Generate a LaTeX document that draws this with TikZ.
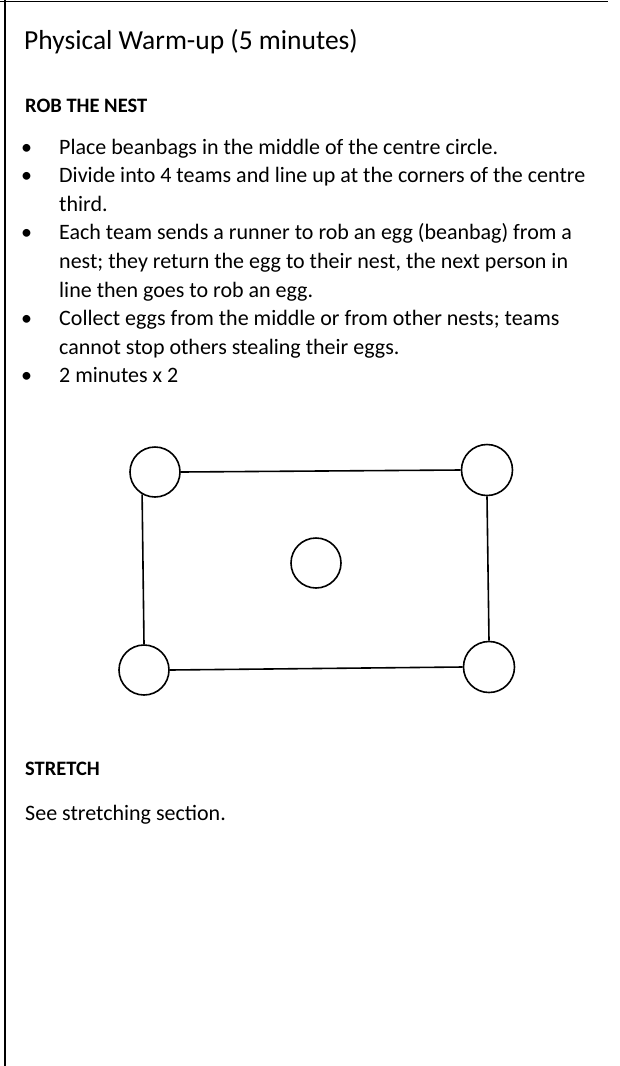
\documentclass[tikz,border=0pt]{standalone}
\usepackage{fontspec}
\setmainfont{Carlito}
\begin{document}
\begin{tikzpicture}[x=1pt,y=-1pt,
  body/.style={anchor=base west, inner sep=0pt, font=\fontsize{22}{26}\selectfont},
  head/.style={anchor=base west, inner sep=0pt, font=\fontsize{20.5}{24}\selectfont\bfseries},
  ttl/.style={anchor=base west, inner sep=0pt, font=\fontsize{27.5}{32}\selectfont},
  nest/.style={circle, draw, line width=1.6pt, minimum size=50pt, inner sep=0pt},
  link/.style={line width=1.6pt},
  frame/.style={line width=2.2pt}]
\useasboundingbox (0,0) rectangle (620,1066);
% page frame
\draw[frame] (5,0) -- (5,1066);
\draw[line width=1.4pt] (0,1.5) -- (608,1.5);
% texts
\node[ttl] (title) at (24,49) {Physical Warm-up (5 minutes)};
\node[head] (rob) at (25,112) {ROB THE NEST};
\node[body] (b1) at (21,154) {\textbullet};
\node[body] (l1) at (59,154) {Place beanbags in the middle of the centre circle.};
\node[body] (b2) at (21,182.6) {\textbullet};
\node[body] (l2) at (59,182.6) {Divide into 4 teams and line up at the corners of the centre};
\node[body] (l3) at (59,211.2) {third.};
\node[body] (b4) at (21,239.8) {\textbullet};
\node[body] (l4) at (59,239.8) {Each team sends a runner to rob an egg (beanbag) from a};
\node[body] (l5) at (59,268.4) {nest; they return the egg to their nest, the next person in};
\node[body] (l6) at (59,297) {line then goes to rob an egg.};
\node[body] (b7) at (21,325.6) {\textbullet};
\node[body] (l7) at (59,325.6) {Collect eggs from the middle or from other nests; teams};
\node[body] (l8) at (59,354.2) {cannot stop others stealing their eggs.};
\node[body] (b9) at (21,382.8) {\textbullet};
\node[body] (l9) at (59,382.8) {2 minutes x 2};
\node[head] (str) at (25,775) {STRETCH};
\node[body] (see) at (25,820) {See stretching section.};
% diagram
\node[nest] (tl) at (155,472) {};
\node[nest, minimum size=51pt] (tr) at (487,470) {};
\node[nest] (bl) at (144,670) {};
\node[nest, minimum size=51pt] (br) at (489,667) {};
\node[nest] (c) at (316,563) {};
\draw[link] (tl.east) -- (tr.west);
\draw[link] (tl.240) -- (bl.north);
\draw[link] (tr.south) -- (br.north);
\draw[link] (bl.east) -- (br.west);
\end{tikzpicture}
\end{document}
